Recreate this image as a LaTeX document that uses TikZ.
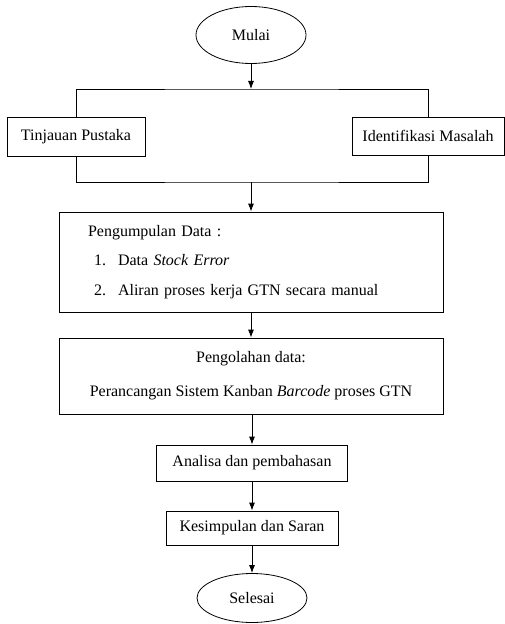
\documentclass[tikz,border=0pt]{standalone}
\usepackage{fontspec}
\setmainfont{Liberation Serif}
\usetikzlibrary{shapes.geometric, arrows.meta}
\tikzset{kotak/.style={draw, rectangle, inner sep=2pt, font=\fontsize{12}{14.4}\selectfont}}
\tikzset{oval/.style={draw, ellipse, inner sep=0pt, font=\fontsize{12}{14.4}\selectfont}}
\tikzset{panah/.style={-{Latex[length=6pt, width=4.5pt]}}}

\begin{document}
\begin{tikzpicture}[x=0.75pt, y=-0.75pt, line width=0.6pt]
    \useasboundingbox (0,0) rectangle (505,624);
    \node [oval, minimum width=82.5pt, minimum height=42.75pt] (mulai) at (251,35) {Mulai};
    \coordinate (pisah) at (251,89);
    \coordinate (gabung) at (251,182);
    \node [kotak, minimum width=103.5pt, minimum height=29.25pt] (tinjauan) at (76,136.5) {Tinjauan Pustaka};
    \node [kotak, minimum width=114pt, minimum height=28.5pt] (identifikasi) at (428,136) {Identifikasi Masalah};
    \node [kotak, minimum width=288pt, minimum height=75pt, text width=244.5pt, inner xsep=21.75pt, align=left, font=\fontsize{12}{22}\selectfont] (kumpul) at (251,262)
        {Pengumpulan Data :\\
         \hspace*{4.5pt}\makebox[18pt][l]{1.}Data \textit{Stock Error}\\
         \hspace*{4.5pt}\makebox[18pt][l]{2.}Aliran proses kerja GTN secara manual};
    \node [kotak, minimum width=288pt, minimum height=57pt, align=center, font=\fontsize{12}{25.5}\selectfont] (olah) at (251,376)
        {Pengolahan data:\\ Perancangan Sistem Kanban \textit{Barcode} proses GTN};
    \node [kotak, minimum width=143.25pt, minimum height=27pt] (analisa) at (252,463) {Analisa dan pembahasan};
    \node [kotak, minimum width=129pt, minimum height=25.5pt] (simpul) at (252,528) {Kesimpulan dan Saran};
    \node [oval, minimum width=82.5pt, minimum height=36.75pt] (selesai) at (252,598) {Selesai};
    \draw [panah] (mulai) -- (pisah);
    \draw (tinjauan.north) |- (pisah) -| (identifikasi.north);
    \draw (tinjauan.south) |- (gabung) -| (identifikasi.south);
    \draw [panah] (gabung) -- (kumpul);
    \draw [panah] (kumpul) -- (olah);
    \draw [panah] (olah.south -| analisa) -- (analisa);
    \draw [panah] (analisa) -- (simpul);
    \draw [panah] (simpul) -- (selesai);
\end{tikzpicture}
\end{document}
